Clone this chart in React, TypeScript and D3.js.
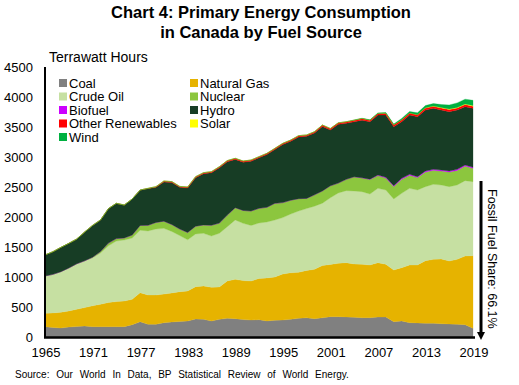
import * as d3 from 'd3';

const years = d3.range(1965, 2020);

// TWh (1965..2019)
const coal = [
  172, 160, 150, 165, 175, 183, 172, 172, 172, 172,
  172, 205, 256, 211, 211, 239, 250, 260, 267, 300,
  295, 267, 294, 311, 306, 290, 283, 289, 267, 280,
  283, 295, 311, 320, 306, 320, 339, 339, 335, 330,
  322, 322, 333, 333, 256, 267, 239, 235, 228, 228,
  222, 217, 211, 206, 144,
];
const naturalGas = [
  222, 242, 261, 270, 286, 307, 348, 373, 403, 418,
  428, 423, 483, 489, 489, 476, 485, 495, 500, 539,
  555, 561, 541, 624, 655, 650, 650, 686, 718, 720,
  767, 775, 767, 790, 822, 870, 871, 889, 904, 887,
  889, 878, 906, 878, 861, 889, 961, 965, 1044, 1066,
  1078, 1050, 1083, 1144, 1212,
];
const crudeOil = [
  623, 642, 678, 715, 759, 780, 800, 855, 945, 1010,
  1017, 1022, 1041, 1067, 1100, 1096, 1025, 935, 853, 878,
  878, 855, 893, 904, 989, 954, 927, 925, 932, 950,
  940, 980, 1022, 1030, 1052, 1040, 1110, 1172, 1200, 1216,
  1211, 1183, 1239, 1239, 1183, 1238, 1278, 1250, 1234, 1250,
  1233, 1239, 1239, 1256, 1233,
];
const nuclear = [
  0, 0, 0, 0, 0, 0, 10, 25, 45, 40,
  35, 50, 80, 95, 110, 120, 115, 110, 122, 130,
  140, 180, 170, 194, 206, 215, 240, 245, 245, 278,
  250, 230, 206, 170, 190, 205, 200, 165, 189, 237,
  230, 244, 212, 199, 209, 236, 218, 207, 245, 234,
  233, 244, 244, 244, 222,
];
const biofuel = [
  0, 0, 0, 0, 0, 0, 0, 0, 0, 0,
  0, 0, 0, 0, 0, 0, 0, 0, 0, 0,
  0, 0, 0, 0, 0, 0, 0, 0, 0, 0,
  0, 0, 0, 0, 0, 0, 0, 0, 0, 0,
  1, 3, 8, 12, 13, 14, 15, 15, 16, 16,
  17, 17, 17, 17, 17,
];
const hydro = [
  350, 378, 405, 411, 413, 480, 530, 525, 575, 588,
  548, 600, 590, 611, 584, 654, 700, 695, 742, 808,
  854, 875, 923, 889, 804, 805, 831, 842, 879, 896,
  968, 982, 1029, 1035, 1030, 1075, 930, 979, 933, 917,
  961, 956, 1000, 1039, 984, 945, 989, 1000, 1016, 1017,
  1000, 989, 989, 972, 983,
];
const otherRenewables = [
  0, 0, 0, 0, 0, 0, 0, 0, 0, 0,
  0, 0, 0, 5, 12, 15, 15, 15, 16, 17,
  17, 18, 18, 18, 18, 19, 19, 19, 20, 20,
  20, 21, 21, 22, 22, 23, 25, 25, 26, 27,
  28, 28, 29, 30, 30, 31, 32, 32, 33, 33,
  34, 34, 34, 35, 35,
];
const solar = [
  0, 0, 0, 0, 0, 0, 0, 0, 0, 0,
  0, 0, 0, 0, 0, 0, 0, 0, 0, 0,
  0, 0, 0, 0, 0, 0, 0, 0, 0, 0,
  0, 0, 0, 0, 0, 0, 0, 0, 0, 0,
  0, 0, 0, 0, 0, 1, 2, 2, 4, 5,
  7, 9, 10, 10, 11,
];
const wind = [
  0, 0, 0, 0, 0, 0, 0, 0, 0, 0,
  0, 0, 0, 0, 0, 0, 0, 0, 0, 0,
  0, 0, 0, 0, 0, 0, 0, 0, 0, 0,
  0, 0, 0, 0, 0, 0, 1, 1, 2, 3,
  4, 6, 8, 10, 12, 22, 25, 30, 38, 42,
  50, 68, 75, 80, 88,
];

const yTicks = [0, 500, 1000, 1500, 2000, 2500, 3000, 3500, 4000, 4500];
const xTicks = [1965, 1971, 1977, 1983, 1989, 1995, 2001, 2007, 2013, 2019];

const SERIES = [
  { key: 'Coal', values: coal, color: '#808080' },
  { key: 'Natural Gas', values: naturalGas, color: '#e6b300' },
  { key: 'Crude Oil', values: crudeOil, color: '#c6e0a2' },
  { key: 'Nuclear', values: nuclear, color: '#8cc63e' },
  { key: 'Biofuel', values: biofuel, color: '#cc00ff' },
  { key: 'Hydro', values: hydro, color: '#173d25' },
  { key: 'Other Renewables', values: otherRenewables, color: '#ff0000' },
  { key: 'Solar', values: solar, color: '#ffff00' },
  { key: 'Wind', values: wind, color: '#00b040' },
];

const FONT = '"Liberation Sans", Arial, sans-serif';
const W = 519;
const H = 385;

export default function App() {
  const x = d3.scaleLinear().domain([1965, 2019]).range([45, 473]);
  const y = d3.scaleLinear().domain([0, 4500]).range([337, 67]);

  const table = years.map((yr, i) => {
    const row: Record<string, number> = { year: yr };
    SERIES.forEach((s) => (row[s.key] = s.values[i]));
    return row;
  });
  const stacked = d3.stack<Record<string, number>>().keys(SERIES.map((s) => s.key))(table);

  const area = d3
    .area<d3.SeriesPoint<Record<string, number>>>()
    .x((d) => x(d.data.year))
    .y0((d) => y(d[0]))
    .y1((d) => y(d[1]));

  // legend: two columns, filled row by row
  const legendX = [59, 190];
  const legendY0 = 83;
  const legendStep = 13.5;

  return (
    <div style={{ position: 'absolute', left: 0, top: 0 }}>
      <svg width={W} height={H} style={{ display: 'block', fontFamily: FONT }}>
        <rect width={W} height={H} fill="#fff" />

        <text x={261} y={18} textAnchor="middle" fontSize={16.5} fontWeight="bold">
          Chart 4: Primary Energy Consumption
        </text>
        <text x={261} y={38} textAnchor="middle" fontSize={16.5} fontWeight="bold">
          in Canada by Fuel Source
        </text>
        <text x={49} y={62} fontSize={14}>
          Terrawatt Hours
        </text>

        {stacked.map((layer, i) => (
          <path
            key={layer.key}
            d={area(layer) ?? ''}
            fill={SERIES[i].color}
            stroke={SERIES[i].color}
            strokeWidth={0.3}
          />
        ))}

        {/* axes */}
        <line x1={45} x2={45} y1={67} y2={338} stroke="#000" strokeWidth={2} />
        <line x1={44} x2={475} y1={337.5} y2={337.5} stroke="#000" strokeWidth={2.5} />

        {yTicks.map((t) => (
          <text key={t} x={33} y={y(t) + 5} textAnchor="end" fontSize={13}>
            {t}
          </text>
        ))}
        {xTicks.map((t) => (
          <text key={t} x={x(t) + 1} y={357} textAnchor="middle" fontSize={13}>
            {t}
          </text>
        ))}

        {/* legend */}
        {SERIES.map((s, i) => {
          const col = i % 2;
          const row = Math.floor(i / 2);
          const ly = legendY0 + row * legendStep;
          return (
            <g key={s.key}>
              <rect x={legendX[col]} y={ly - 4} width={8} height={8} fill={s.color} />
              <text x={legendX[col] + 10} y={ly + 4.5} fontSize={13}>
                {s.key}
              </text>
            </g>
          );
        })}

        {/* fossil share arrow */}
        <line x1={481} x2={481} y1={181} y2={333} stroke="#000" strokeWidth={3} />
        <path d="M477,332 L485,332 L481,340 Z" fill="#000" />
        <text transform="translate(488,189) rotate(90)" fontSize={12.5}>
          Fossil Fuel Share: 66.1%
        </text>

        <text x={15} y={378} fontSize={10} wordSpacing={4}>
          Source: Our World In Data, BP Statistical Review of World Energy.
        </text>
      </svg>
    </div>
  );
}
